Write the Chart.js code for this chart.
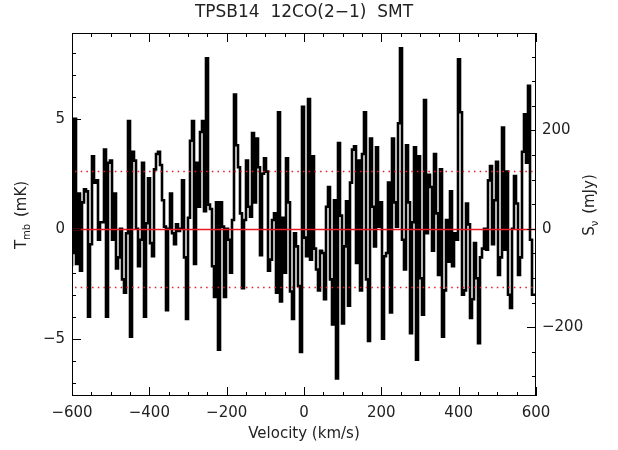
<!DOCTYPE html>
<html>
<head>
<meta charset="utf-8">
<script src="https://cdn.jsdelivr.net/npm/chart.js@4.4.1/dist/chart.umd.min.js"></script>
<style>body{margin:0;background:#fff}</style>
</head>
<body>
<canvas id="espectro" width="618" height="450"></canvas>
<script>
// Espectro TPSB14 12CO(2-1), SMT (mK)
const tmbTramo1 = [-1.7, -1.1, 5.0, -1.6, 1.6, -1.9, 1.2, 1.8, 1.7, -4.0, -0.7, 3.3, 2.1, 2.2, -0.5, 0.3, 0.3, 3.6, -4.0, 3.0,
  3.1, -0.5, 1.6, -1.8, -1.3, 0.0, -2.3, -2.9, -0.2, 4.9, -4.9, 3.5, 3.1, 0.0, -1.7, -0.5, 3.0, -4.0, 0.25];
const tmbTramo2 = [2.3, -0.65, -1.25, 2.7, 3.4, 3.5, 2.9, 1.3, 0.1, -3.7, 0.0, 1.6, -0.2, -0.7, 0.2, -0.1, 0.0, 2.2, -1.3, -4.1,
  0.5, 4.0, 4.9, -1.6, 3.0, 1.0, 4.4, 4.9, 0.8, 7.75, 1.1, 0.9, -1.7, -3.1, 1.2, -5.5, 1.2, 0.1, -3.1];
const tmbTramo3 = [0.0, -0.5, -2.0, 0.4, 6.1, 3.8, 2.8, 0.7, -2.7, 0.4, 3.1, 1.0, 0.55, 4.35, 1.2, 4.1, 2.8, -1.2, 2.5, 3.2,
  2.6, -1.9, -1.4, 0.4, 0.7, -2.9, 5.3, -3.3, 0.5, -2.0, 3.2, 1.2, -2.85, -4.1, -0.2, -0.8, -2.6, -5.6, 5.55];
const tmbTramo4 = [-0.4, -1.25, 5.9, -1.4, 3.3, -0.9, -1.85, -2.8, -1.0, -1.1, -3.2, 1.0, 1.9, -2.3, -4.35, 1.3, -6.8, 3.9, 0.6, -4.3,
  -0.8, 1.25, -3.5, 2.1, 3.6, 3.75, -1.55, 3.1, -2.8, 3.4, 5.3, -2.3, -5.1, 4.1, 1.0, -0.8, 3.7, 0.1, 1.2];
const tmbTramo5 = [-5.0, -1.25, -1.1, 2.1, -3.8, 4.1, 1.2, 0.1, 4.8, 8.2, -0.5, -1.85, 3.8, 1.2, -4.75, 0.3, 3.7, -5.95, 3.3, -2.25,
  -3.9, 5.85, -0.2, 2.45, 1.9, -1.0, 3.4, 0.7, -2.1, 2.7, -4.9, -2.8, 0.4, -1.5, 1.7, -1.7, -0.2, -0.5, 7.7];
const tmbTramo6 = [5.3, -3.0, -2.8, 1.15, 0.2, -4.05, -3.2, -0.65, -2.25, -5.2, -1.3, -0.9, 0.0, -0.95, 2.2, 2.85, -0.7, 1.3, 3.05, -2.1,
  -1.3, 4.6, -0.95, 2.6, -3.0, -3.6, 0.0, 2.4, 1.15, -2.1, -1.3, 3.5, 5.2, 3.0, 6.5, -0.5, -3.0];

const velInicio = -600;
const velFin = 600;
const rmsTmb = 2.64;        // lineas punteadas (mK)
const mJyPorMK = 44.76;     // conversion para el eje derecho
const limitesTmb = [-7.6, 8.9];

const ticksVel = [-600, -400, -200, 0, 200, 400, 600];
const ticksVelMenor = [];
for (let v = -600; v <= 600; v += 50) ticksVelMenor.push(v);
const ticksTmb = [-5, 0, 5];
const ticksTmbMenor = [-7, -6, -5, -4, -3, -2, -1, 0, 1, 2, 3, 4, 5, 6, 7, 8];
const ticksSnu = [-200, 0, 200];
const ticksSnuMenor = [-300, -250, -200, -150, -100, -50, 0, 50, 100, 150, 200, 250, 300, 350];

const tmb = [].concat(tmbTramo1, tmbTramo2, tmbTramo3, tmbTramo4, tmbTramo5, tmbTramo6);
const anchoCanal = (velFin - velInicio) / tmb.length;
const puntos = tmb.map((t, i) => ({ x: velInicio + i * anchoCanal, y: t }));
puntos.push({ x: velFin, y: tmb[tmb.length - 1] });

const fuente = '"DejaVu Sans", sans-serif';
const colorTexto = '#222';
const rojo = 'rgb(232, 24, 36)';
const menos = v => (v < 0 ? '\u2212' + Math.abs(v) : String(v));

function textoConSub(ctx, x, y, base, sub, rot) {
  ctx.save();
  ctx.translate(x, y);
  ctx.rotate(rot);
  const [b, resto] = base.split('|');
  ctx.font = '15px ' + fuente;
  const wb = ctx.measureText(b).width;
  const wr = ctx.measureText(resto).width;
  ctx.font = '10px ' + fuente;
  const ws = ctx.measureText(sub).width;
  let cx = -(wb + ws + 2 + wr) / 2;
  ctx.textBaseline = 'middle';
  ctx.textAlign = 'left';
  ctx.font = '15px ' + fuente;
  ctx.fillText(b, cx, 0);
  cx += wb;
  ctx.font = '10px ' + fuente;
  ctx.fillText(sub, cx, 5);
  cx += ws + 2;
  ctx.font = '15px ' + fuente;
  ctx.fillText(resto, cx, 0);
  ctx.restore();
}

const marcoPlugin = {
  id: 'marco',
  afterDatasetsDraw(chart) {
    const { ctx, chartArea: a, scales: { y } } = chart;
    ctx.save();
    ctx.beginPath();
    ctx.rect(a.left, a.top, a.right - a.left, a.bottom - a.top);
    ctx.clip();
    ctx.strokeStyle = rojo;
    ctx.lineWidth = 1.5;
    const y0 = Math.round(y.getPixelForValue(0)) + 0.5;
    ctx.beginPath(); ctx.moveTo(a.left, y0); ctx.lineTo(a.right, y0); ctx.stroke();
    ctx.lineWidth = 1.3;
    ctx.setLineDash([1.5, 4.2]);
    for (const v of [rmsTmb, -rmsTmb]) {
      const yy = Math.round(y.getPixelForValue(v)) + 0.5;
      ctx.beginPath(); ctx.moveTo(a.left + 3, yy); ctx.lineTo(a.right, yy); ctx.stroke();
    }
    ctx.restore();
  },
  afterDraw(chart) {
    const { ctx, chartArea: a, scales: { x, y, y2 } } = chart;
    ctx.save();
    ctx.strokeStyle = '#000';
    ctx.lineWidth = 1;
    ctx.strokeRect(a.left + 0.5, a.top + 0.5, a.right - a.left - 1, a.bottom - a.top - 1);
    ctx.beginPath();
    const vert = (vals, largo) => vals.forEach(v => {
      const px = Math.round(x.getPixelForValue(v)) + 0.5;
      ctx.moveTo(px, a.bottom); ctx.lineTo(px, a.bottom - largo);
      ctx.moveTo(px, a.top); ctx.lineTo(px, a.top + largo);
    });
    vert(ticksVelMenor, 4);
    vert(ticksVel, 9);
    ticksTmbMenor.forEach(v => { const p = Math.round(y.getPixelForValue(v)) + 0.5; ctx.moveTo(a.left, p); ctx.lineTo(a.left + 4, p); });
    ticksTmb.forEach(v => { const p = Math.round(y.getPixelForValue(v)) + 0.5; ctx.moveTo(a.left, p); ctx.lineTo(a.left + 9, p); });
    ticksSnuMenor.forEach(v => { const p = Math.round(y2.getPixelForValue(v)) + 0.5; ctx.moveTo(a.right, p); ctx.lineTo(a.right - 4, p); });
    ticksSnu.forEach(v => { const p = Math.round(y2.getPixelForValue(v)) + 0.5; ctx.moveTo(a.right, p); ctx.lineTo(a.right - 9, p); });
    ctx.stroke();

    ctx.fillStyle = colorTexto;
    ctx.font = '17px ' + fuente;
    ctx.textAlign = 'center';
    ctx.textBaseline = 'middle';
    ctx.fillText('TPSB14  12CO(2\u22121)  SMT', (a.left + a.right) / 2, 13);
    ctx.font = '15px ' + fuente;
    ctx.fillText('Velocity (km/s)', (a.left + a.right) / 2, 434);
    textoConSub(ctx, 22, 215, 'T| (mK)', 'mb', -Math.PI / 2);
    textoConSub(ctx, 590, 205, 'S| (mJy)', '\u03bd', -Math.PI / 2);
    ctx.restore();
  }
};

const ejeTicks = { color: colorTexto, font: { family: fuente, size: 15 } };

new Chart(document.getElementById('espectro').getContext('2d'), {
  type: 'line',
  data: {
    datasets: [{
      data: puntos,
      stepped: 'after',
      borderColor: '#000',
      borderWidth: 2.6,
      pointRadius: 0,
      fill: false
    }]
  },
  options: {
    responsive: false,
    animation: false,
    layout: { padding: { top: 33, left: 0, right: 0, bottom: 0 } },
    plugins: { legend: { display: false }, tooltip: { enabled: false } },
    scales: {
      x: {
        type: 'linear', min: velInicio, max: velFin,
        grid: { display: false, drawTicks: false }, border: { display: false },
        afterBuildTicks: s => { s.ticks = ticksVel.map(v => ({ value: v })); },
        afterFit: s => { s.height = 54; },
        ticks: { ...ejeTicks, padding: 8, maxRotation: 0, callback: v => menos(v) }
      },
      y: {
        position: 'left', min: limitesTmb[0], max: limitesTmb[1],
        grid: { display: false, drawTicks: false }, border: { display: false },
        afterBuildTicks: s => { s.ticks = ticksTmb.map(v => ({ value: v })); },
        afterFit: s => { s.width = 72; },
        ticks: { ...ejeTicks, padding: 7, callback: v => menos(v) }
      },
      y2: {
        position: 'right', min: limitesTmb[0] * mJyPorMK, max: limitesTmb[1] * mJyPorMK,
        grid: { display: false, drawTicks: false }, border: { display: false },
        afterBuildTicks: s => { s.ticks = ticksSnu.map(v => ({ value: v })); },
        afterFit: s => { s.width = 82; },
        ticks: { ...ejeTicks, padding: 6, callback: v => menos(v) }
      }
    }
  },
  plugins: [marcoPlugin]
});
</script>
</body>
</html>
